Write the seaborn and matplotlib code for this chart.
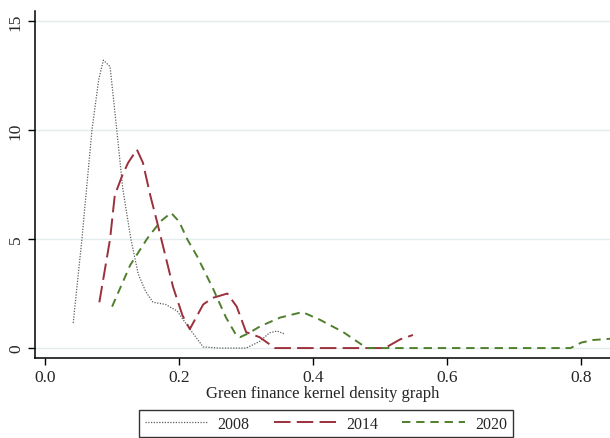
import matplotlib
matplotlib.use('Agg')
import matplotlib.pyplot as plt
import seaborn as sns
import pandas as pd

# density curves
x_2008 = [0.042, 0.055, 0.070, 0.080, 0.087, 0.097, 0.107, 0.116, 0.128, 0.139, 0.150,
          0.161, 0.180, 0.197, 0.216, 0.236, 0.260, 0.300, 0.320, 0.335, 0.346, 0.358]
y_2008 = [1.15, 5.0, 10.0, 12.3, 13.2, 12.9, 10.0, 7.3, 5.0, 3.4, 2.6,
          2.1, 2.0, 1.7, 0.87, 0.05, 0.0, 0.0, 0.3, 0.7, 0.78, 0.64]

x_2014 = [0.081, 0.097, 0.104, 0.115, 0.124, 0.137, 0.146, 0.157, 0.167, 0.191, 0.205,
          0.216, 0.236, 0.250, 0.261, 0.272, 0.286, 0.300, 0.320, 0.343, 0.400, 0.507,
          0.530, 0.549]
y_2014 = [2.1, 5.0, 7.0, 7.9, 8.5, 9.1, 8.5, 7.0, 5.8, 2.8, 1.5,
          0.87, 2.0, 2.3, 2.4, 2.5, 1.9, 0.73, 0.5, 0.0, 0.0, 0.0,
          0.4, 0.6]

x_2020 = [0.100, 0.127, 0.152, 0.172, 0.188, 0.200, 0.212, 0.227, 0.251, 0.270, 0.286,
          0.291, 0.305, 0.321, 0.351, 0.384, 0.410, 0.445, 0.480, 0.600, 0.700, 0.784,
          0.800, 0.818, 0.845]
y_2020 = [1.9, 3.8, 5.0, 5.8, 6.2, 5.8, 5.0, 4.2, 2.7, 1.4, 0.55,
          0.5, 0.7, 1.0, 1.4, 1.65, 1.3, 0.73, 0.0, 0.0, 0.0, 0.0,
          0.25, 0.37, 0.43]

years = ["2008", "2014", "2020"]
x_ticks = [0.0, 0.2, 0.4, 0.6, 0.8]
y_ticks = [0, 5, 10, 15]

sns.set_style("white")
plt.rcParams['font.family'] = ['Liberation Serif', 'DejaVu Serif']

fig = plt.figure(figsize=(6.1, 4.39), dpi=100)
ax = fig.add_axes([0.0574, 0.182, 0.9426, 0.791])

for ygrid in y_ticks:
    ax.axhline(ygrid, color="#e3ecef", lw=1.0, zorder=0)

styles = {
    "2008": dict(color="#5e5e5e", lw=0.9, dashes=(1.0, 1.2)),
    "2014": dict(color="#9b2f3c", lw=1.4, dashes=(8.5, 3.2)),
    "2020": dict(color="#4f7f2c", lw=1.4, dashes=(4.3, 3.0)),
}
series = {"2008": (x_2008, y_2008), "2014": (x_2014, y_2014), "2020": (x_2020, y_2020)}

for yr in years:
    xs, ys = series[yr]
    df = pd.DataFrame({"x": xs, "density": ys})
    st = styles[yr]
    sns.lineplot(data=df, x="x", y="density", ax=ax, color=st["color"],
                 linewidth=st["lw"], dashes=False, label=yr)
    ax.lines[-1].set_dashes(st["dashes"])

ax.set_xlim(-0.015, 0.843)
ax.set_ylim(-0.46, 15.46)
ax.set_xticks(x_ticks)
ax.set_xticklabels([f"{t:.1f}" for t in x_ticks])
ax.set_yticks(y_ticks)
ax.set_yticklabels([str(t) for t in y_ticks], rotation=90, va="center")
ax.tick_params(axis="both", direction="out", length=5, width=1, color="black",
               labelsize=12.5, pad=3, bottom=True, left=True)
ax.set_xlabel("Green finance kernel density graph", fontsize=12, labelpad=0)
ax.set_ylabel("")

for side in ["top", "right"]:
    ax.spines[side].set_visible(False)
for side in ["left", "bottom"]:
    ax.spines[side].set_color("black")
    ax.spines[side].set_linewidth(1.1)

leg = ax.legend(loc="upper center", bbox_to_anchor=(0.506, -0.150), ncol=3,
                frameon=True, fancybox=False, fontsize=11.5, handlelength=3.9,
                columnspacing=1.5, borderpad=0.35, handletextpad=0.65,
                borderaxespad=0)
leg.get_frame().set_edgecolor("black")
leg.get_frame().set_linewidth(1.0)

plt.savefig("out.png", dpi=100)
plt.close()
